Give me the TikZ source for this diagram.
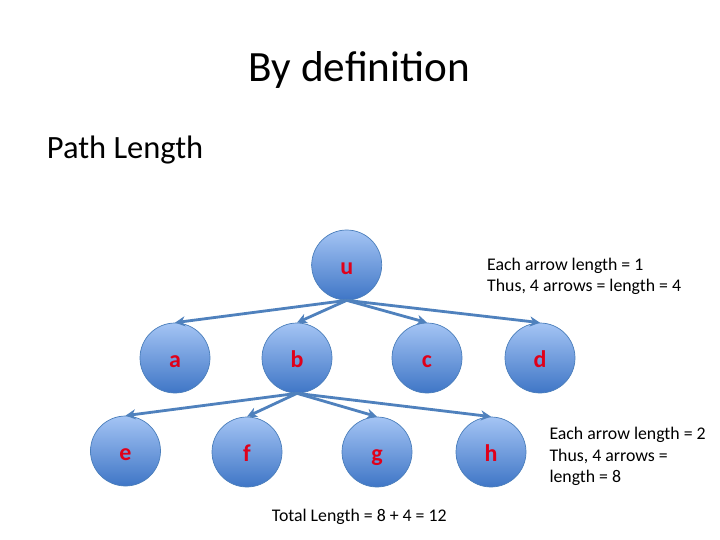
\documentclass[tikz,border=0pt]{standalone}
\usepackage{fontspec}
\setmainfont{Carlito}
\usetikzlibrary{arrows.meta}
\definecolor{nodetop}{HTML}{A4C4F4}
\definecolor{nodebot}{HTML}{3F76C6}
\definecolor{nodeedge}{HTML}{4A7EBB}
\definecolor{arrowc}{HTML}{4F81BD}
\definecolor{lettc}{HTML}{E0001A}
\tikzset{
  vertex/.style={circle, minimum size=70pt, inner sep=0pt, draw=nodeedge, line width=0.7pt,
    top color=nodetop, bottom color=nodebot, text=lettc, text height=18pt, text depth=0pt,
    font=\fontsize{24}{24}\selectfont\bfseries},
  edge/.style={draw=arrowc, line width=2.8pt, -{Stealth[length=10pt,width=10pt,inset=3pt]}},
  txt/.style={anchor=base west, inner sep=0pt, font=\fontsize{17.8}{17.8}\selectfont}
}
\begin{document}
\begin{tikzpicture}[x=1pt,y=-1pt]
\useasboundingbox[fill=white] (0,0) rectangle (720,540);
\node[anchor=base, inner sep=0pt, font=\fontsize{43.2}{43.2}\selectfont] (title) at (359.5,81.7) {By definition};
\node[anchor=base west, inner sep=0pt, font=\fontsize{32.5}{32.5}\selectfont] (pl) at (46.7,158.3) {Path Length};

\node[vertex] (u) at (346.7,265) {u};
\node[vertex] (a) at (175,358) {a};
\node[vertex] (b) at (297,358) {b};
\node[vertex] (c) at (427,358) {c};
\node[vertex] (d) at (540,358) {d};
\node[vertex] (e) at (125.5,451) {e};
\node[vertex] (f) at (247,452) {f};
\node[vertex] (g) at (377,452) {g};
\node[vertex] (h) at (491,452) {h};

\foreach \t in {a,b,c,d} \draw[edge] (u.south) -- (\t.north);
\foreach \t in {e,f,g,h} \draw[edge] (b.south) -- (\t.north);

\node[txt] (t1) at (487,270.7) {Each arrow length = 1};
\node[txt] (t2) at (487,291.7) {Thus, 4 arrows = length = 4};
\node[txt] (s1) at (549.3,439.3) {Each arrow length = 2};
\node[txt] (s2) at (549.3,461) {Thus, 4 arrows =};
\node[txt] (s3) at (549.3,482.7) {length = 8};
\node[txt] (tot) at (271.7,521.7) {Total Length = 8 + 4 = 12};
\end{tikzpicture}
\end{document}
